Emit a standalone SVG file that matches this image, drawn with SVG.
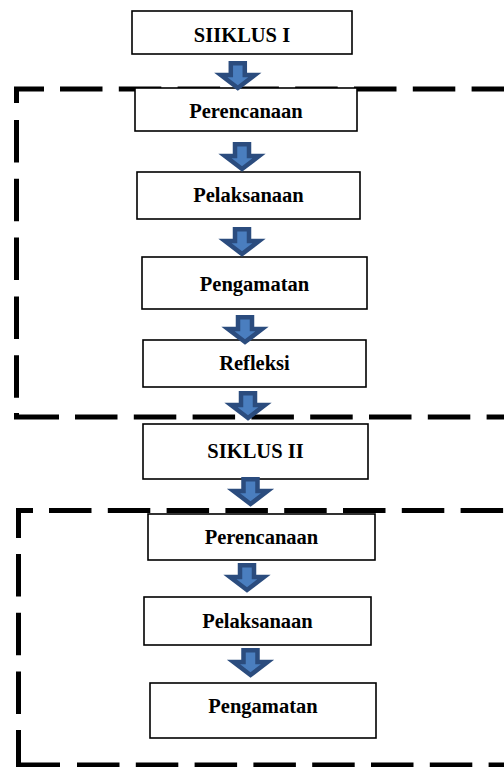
<svg xmlns="http://www.w3.org/2000/svg" xmlns:xlink="http://www.w3.org/1999/xlink" width="504" height="767" viewBox="0 0 504 767">
<style>
.frame{fill:none;stroke:#000;stroke-width:5;stroke-linecap:butt}
.dash{stroke-dasharray:42.5 16.3}
.box{fill:#fff;stroke:#000;stroke-width:1.6}
.lbl{font-family:"Liberation Serif","Times New Roman",serif;font-weight:bold;font-size:20.5px;text-anchor:middle;fill:#000}
.arr{fill:#4a7ebf;stroke:#2b4c7e;stroke-width:4.5;stroke-linejoin:miter}
</style>
<defs>
<path id="arrow" class="arr" d="M-7,2.25 H7 V14 H17 L0,27 L-17,14 H-7 Z"/>
</defs>
<rect width="504" height="767" fill="#fff"/>
<g id="frame1">
<path class="frame" d="M16.5,103 V89 H44"/>
<line class="frame dash" x1="60" y1="89" x2="510" y2="89"/>
<line class="frame dash" x1="16.5" y1="120" x2="16.5" y2="400"/>
<path class="frame" d="M16.5,413 V417 H59"/>
<line class="frame dash" x1="75" y1="417" x2="510" y2="417"/>
</g>
<g id="frame2">
<path class="frame" d="M18.5,538 V510.5 H33"/>
<line class="frame dash" x1="49" y1="510.5" x2="510" y2="510.5"/>
<line class="frame dash" x1="18.5" y1="554" x2="18.5" y2="720"/>
<path class="frame" d="M18.5,730 V765 H60"/>
<line class="frame dash" x1="77" y1="765" x2="510" y2="765"/>
</g>
<g id="siklus1"><rect class="box" x="132" y="11" width="220" height="43"/><text class="lbl" x="242" y="41.5">SIIKLUS I</text></g>
<g id="perencanaan1"><rect class="box" x="135" y="88" width="222" height="43"/><text class="lbl" x="246" y="118">Perencanaan</text></g>
<g id="pelaksanaan1"><rect class="box" x="137" y="172" width="223" height="47"/><text class="lbl" x="248.5" y="201.5">Pelaksanaan</text></g>
<g id="pengamatan1"><rect class="box" x="142" y="257" width="225" height="52"/><text class="lbl" x="254.5" y="290.5">Pengamatan</text></g>
<g id="refleksi"><rect class="box" x="143" y="340" width="223" height="47"/><text class="lbl" x="254.5" y="370">Refleksi</text></g>
<g id="siklus2"><rect class="box" x="143" y="424" width="225" height="55"/><text class="lbl" x="255.5" y="458">SIKLUS II</text></g>
<g id="perencanaan2"><rect class="box" x="148" y="514" width="227" height="46"/><text class="lbl" x="261.5" y="544">Perencanaan</text></g>
<g id="pelaksanaan2"><rect class="box" x="144" y="597" width="227" height="48"/><text class="lbl" x="257.5" y="628">Pelaksanaan</text></g>
<g id="pengamatan2"><rect class="box" x="150" y="683" width="226" height="55"/><text class="lbl" x="263" y="713">Pengamatan</text></g>
<g id="connectors">
<use xlink:href="#arrow" href="#arrow" x="237.8" y="61"/>
<use xlink:href="#arrow" href="#arrow" x="242" y="142"/>
<use xlink:href="#arrow" href="#arrow" x="242" y="227"/>
<use xlink:href="#arrow" href="#arrow" x="245" y="315"/>
<use xlink:href="#arrow" href="#arrow" x="248" y="391"/>
<use xlink:href="#arrow" href="#arrow" x="250.5" y="477"/>
<use xlink:href="#arrow" href="#arrow" x="247" y="563"/>
<use xlink:href="#arrow" href="#arrow" x="250.5" y="648"/>
</g>
</svg>
